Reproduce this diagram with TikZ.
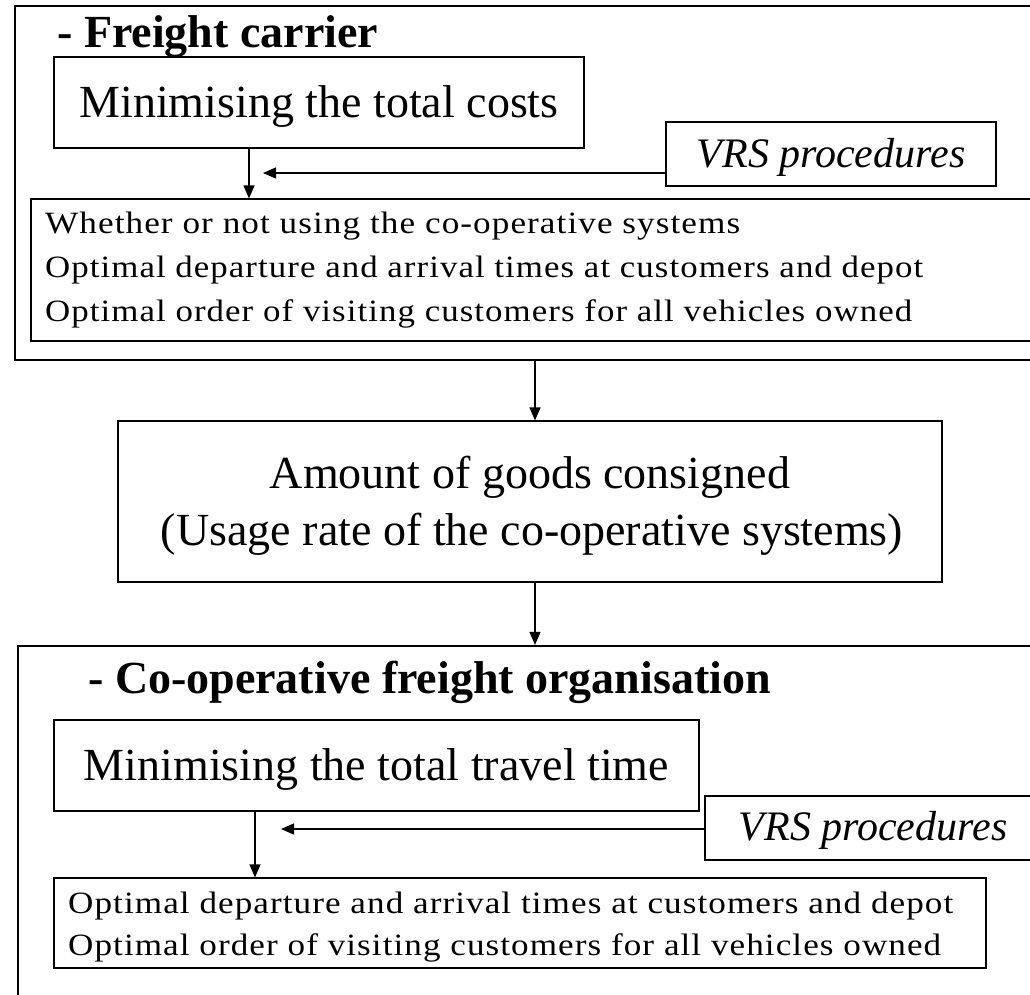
\documentclass[tikz,border=0pt]{standalone}
\usepackage{fontspec}
\setmainfont{Liberation Serif}
\usetikzlibrary{arrows.meta}
\newcommand\spreadline[2]{\resizebox{#1}{\height}{\addfontfeature{LetterSpace=3}#2}}
\begin{document}
\begin{tikzpicture}[x=1pt,y=-1pt,
  outer/.style={draw, line width=2.2pt, inner sep=0pt},
  box/.style={draw, line width=1.2pt, inner sep=0pt},
  bigtext/.style={font=\fontsize{46}{50}\selectfont},
  vrstext/.style={font=\fontsize{42}{46}\selectfont\itshape},
  titletext/.style={font=\fontsize{46}{50}\selectfont\bfseries, inner sep=0pt},
  linetext/.style={font=\fontsize{31}{36}\selectfont, inner sep=0pt, anchor=base west},
  arr/.style={line width=1.2pt, -{Triangle[length=13pt,width=11pt]}}]
\useasboundingbox (0,0) rectangle (1030,994);
\clip (0,0) rectangle (1030,994);

% ---------- Freight carrier ----------
\node[outer, minimum width=1040pt, minimum height=354pt] (carrier) at (535,183) {};
\node[titletext, anchor=base west] (t1) at (57,47) {- Freight carrier};
\node[box, bigtext, minimum width=530pt, minimum height=91pt, text height=32pt, text depth=3pt] (cost1) at (319,102.5) {Minimising the total costs};
\node[box, vrstext, minimum width=330pt, minimum height=64pt, text height=29pt, text depth=3pt] (vrs1) at (831,154) {VRS procedures};
\node[box, minimum width=1030pt, minimum height=142pt] (res1) at (546,270) {};
\node[linetext] (res1a) at (45,233) {\spreadline{695pt}{Whether or not using the co-operative systems}};
\node[linetext] (res1b) at (45,277) {\spreadline{878pt}{Optimal departure and arrival times at customers and depot}};
\node[linetext] (res1c) at (45,321) {\spreadline{867pt}{Optimal order of visiting customers for all vehicles owned}};
\coordinate (c1) at (249,0);
\draw[arr] (cost1.south -| c1) -- (res1.north -| c1);
\coordinate (h1) at (263,173);
\draw[arr] (vrs1.west |- h1) -- (h1);

% ---------- Amount of goods ----------
\node[box, minimum width=824pt, minimum height=161pt] (amount) at (530,501.5) {};
\node[bigtext, anchor=base, inner sep=0pt] (amountA) at (530,488) {Amount of goods consigned};
\node[bigtext, anchor=base, inner sep=0pt] (amountB) at (532,545) {(Usage rate of the co-operative systems)};

% ---------- Co-operative freight organisation ----------
\node[outer, minimum width=1040pt, minimum height=370pt] (coop) at (538,831) {};
\node[titletext, anchor=base west] (t2) at (88,693) {- Co-operative freight organisation};
\node[box, bigtext, minimum width=645pt, minimum height=91pt, text height=32pt, text depth=3pt] (cost2) at (376.5,765.5) {Minimising the total travel time};
\node[box, vrstext, minimum width=336pt, minimum height=64pt, text height=27pt, text depth=3pt] (vrs2) at (873,828) {VRS procedures};
\node[box, minimum width=932pt, minimum height=90pt] (res2) at (520,923) {};
\node[linetext] (res2a) at (68,913) {\spreadline{885pt}{Optimal departure and arrival times at customers and depot}};
\node[linetext] (res2b) at (68,955) {\spreadline{873pt}{Optimal order of visiting customers for all vehicles owned}};
\coordinate (c3) at (255,0);
\draw[arr] (cost2.south -| c3) -- (res2.north -| c3);
\coordinate (h2) at (281,829);
\draw[arr] (vrs2.west |- h2) -- (h2);

% ---------- connectors between sections ----------
\coordinate (c2) at (535,0);
\draw[arr] (carrier.south -| c2) -- (amount.north -| c2);
\draw[arr] (amount.south -| c2) -- (coop.north -| c2);
\end{tikzpicture}
\end{document}
